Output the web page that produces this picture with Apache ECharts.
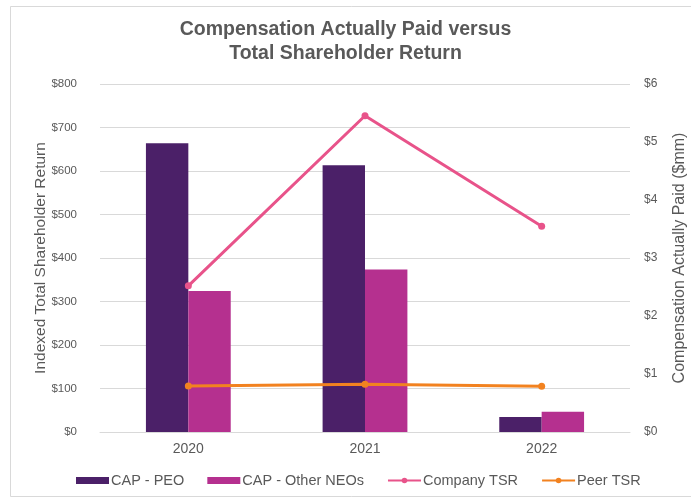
<!DOCTYPE html>
<html>
<head>
<meta charset="utf-8">
<script src="https://cdn.jsdelivr.net/npm/echarts@6/dist/echarts.min.js"></script>
<style>html,body{margin:0;padding:0;background:#fff}#c{width:691px;height:500px}</style>
</head>
<body>
<div id="c"></div>
<script>
const categories = ['2020', '2021', '2022'];
const capPEO = [4.98, 4.60, 0.26];
const capOtherNEOs = [2.43, 2.80, 0.35];
const companyTSR = [336, 727, 473];
const peerTSR = [106, 110, 105];
const leftTicks = [0, 100, 200, 300, 400, 500, 600, 700, 800];
const rightTicks = [0, 1, 2, 3, 4, 5, 6];

const txt = '#595959';
const font = 'Liberation Sans';
const chart = echarts.init(document.getElementById('c'));
chart.setOption({
  backgroundColor: '#fff',
  textStyle: { fontFamily: font },
  graphic: [{
    type: 'rect', shape: { x: 10.5, y: 6.5, width: 690, height: 490 },
    style: { fill: 'none', stroke: '#d9d9d9', lineWidth: 1 }, silent: true
  }],
  title: {
    text: 'Compensation Actually Paid versus\nTotal Shareholder Return',
    left: 'center', top: 13,
    textStyle: { fontFamily: font, fontSize: 19.5, fontWeight: 'bold', color: txt, lineHeight: 24 }
  },
  legend: {
    top: 468, left: 71, itemWidth: 33, itemHeight: 7, itemGap: 23,
    textStyle: { fontFamily: font, fontSize: 14.5, color: txt, padding: [0, 0, 0, -3] },
    data: [
      { name: 'CAP - PEO', icon: 'rect' },
      { name: 'CAP - Other NEOs', icon: 'rect' },
      { name: 'Company TSR' },
      { name: 'Peer TSR' }
    ]
  },
  grid: { left: 100, right: 61, top: 84, bottom: 68, outerBoundsMode: 'none', containLabel: false },
  xAxis: {
    type: 'category', data: categories,
    axisLine: { lineStyle: { color: '#d9d9d9' } },
    axisTick: { show: false },
    axisLabel: { color: txt, fontSize: 14, margin: 10, fontFamily: font }
  },
  yAxis: [{
    type: 'value', min: leftTicks[0], max: leftTicks[leftTicks.length - 1], interval: 100,
    name: 'Indexed Total Shareholder Return', nameLocation: 'middle', nameGap: 51,
    nameMoveOverlap: false,
    nameTextStyle: { color: txt, fontSize: 15.5, fontFamily: font },
    axisLine: { show: false }, axisTick: { show: false },
    axisLabel: { color: txt, fontSize: 11.5, margin: 23, formatter: v => '$' + v, fontFamily: font },
    splitLine: { lineStyle: { color: '#d9d9d9' } }
  }, {
    type: 'value', min: rightTicks[0], max: rightTicks[rightTicks.length - 1], interval: 1,
    name: 'Compensation Actually Paid ($mm)', nameLocation: 'middle', nameGap: 42, nameRotate: 90,
    nameMoveOverlap: false,
    nameTextStyle: { color: txt, fontSize: 16, fontFamily: font },
    axisLine: { show: false }, axisTick: { show: false },
    axisLabel: { color: txt, fontSize: 12, margin: 14, formatter: v => '$' + v, fontFamily: font },
    splitLine: { show: false }
  }],
  series: [{
    name: 'CAP - PEO', type: 'bar', yAxisIndex: 1, data: capPEO,
    itemStyle: { color: '#4B2068' }, barGap: '0%', barCategoryGap: '52%'
  }, {
    name: 'CAP - Other NEOs', type: 'bar', yAxisIndex: 1, data: capOtherNEOs,
    itemStyle: { color: '#B5308F' }
  }, {
    name: 'Company TSR', type: 'line', yAxisIndex: 0, data: companyTSR,
    symbol: 'circle', symbolSize: 7,
    lineStyle: { color: '#E8538A', width: 3 }, itemStyle: { color: '#E8538A' }
  }, {
    name: 'Peer TSR', type: 'line', yAxisIndex: 0, data: peerTSR,
    symbol: 'circle', symbolSize: 7,
    lineStyle: { color: '#F28220', width: 3 }, itemStyle: { color: '#F28220' }
  }]
});
</script>
</body>
</html>
